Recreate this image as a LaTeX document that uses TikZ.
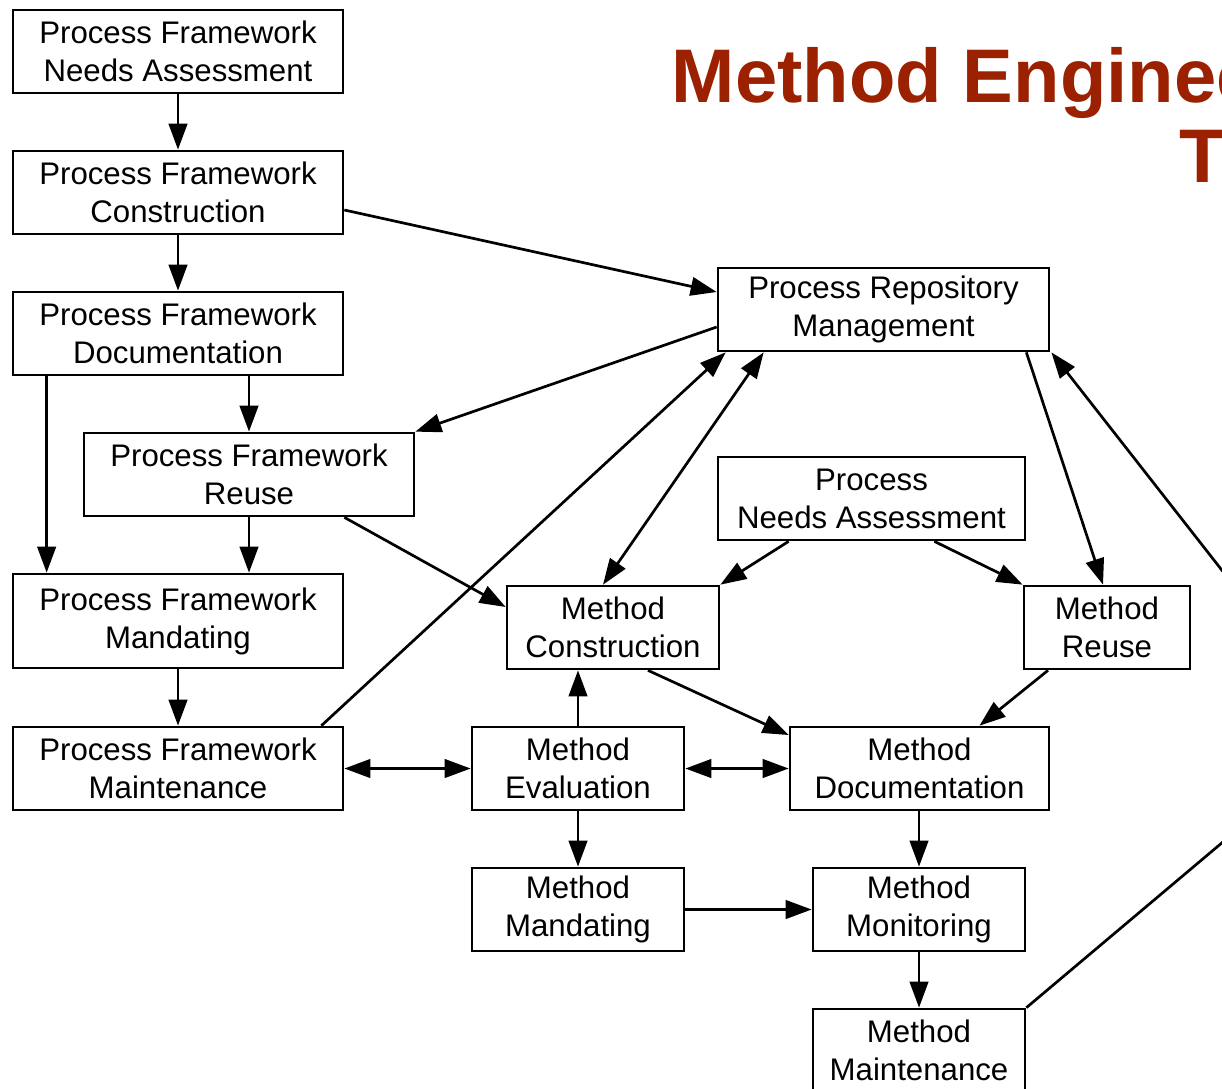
\documentclass[tikz,border=0pt]{standalone}
\usepackage{fontspec}
\setmainfont{Liberation Sans}
\usetikzlibrary{arrows.meta,calc}
\definecolor{titlered}{RGB}{155,33,0}
\begin{document}
\begin{tikzpicture}[x=1pt,y=-1pt,
  box/.style={draw,line width=2.7pt,fill=white,align=center,inner sep=0pt,
    minimum height=83pt,font=\fontsize{31.2}{38}\selectfont},
  wide/.style={box,minimum width=330pt},
  tip/.tip={Triangle[length=26pt,width=18.5pt]},
  conn/.style={line width=2.7pt,-tip},
  bconn/.style={line width=2.7pt,tip-tip},
  plain/.style={line width=2.7pt},
  title/.style={anchor=base west,inner sep=0pt,text=titlered,font=\fontsize{76}{80}\selectfont\bfseries}]
\useasboundingbox (0,0) rectangle (1222,1088);
\clip (0,0) rectangle (1222,1088);

% title
\node[title] (t1) at (671.5,102) {Method Engineering};
\node[title] (t2) at (1179,182) {Tasks};

% process framework column
\node[wide] (PFNA) at (178,51.5) {Process Framework\\Needs Assessment};
\node[wide] (PFC) at (178,192.5) {Process Framework\\Construction};
\node[wide] (PFD) at (178,333.5) {Process Framework\\Documentation};
\node[wide] (PFR) at (249,474.5) {Process Framework\\Reuse};
\node[wide,minimum height=94pt] (PFM) at (178,621) {Process Framework\\Mandating};
\node[wide] (PFMT) at (178,768.5) {Process Framework\\Maintenance};

% method nodes
\node[box,minimum width=331pt] (PRM) at (883.5,309.5) {Process Repository\\Management};
\node[box,minimum width=307pt] (PNA) at (871.5,498.5) {Process\\Needs Assessment};
\node[box,minimum width=212pt] (MC) at (613,627.5) {Method\\Construction};
\node[box,minimum width=166pt] (MR) at (1107,627.5) {Method\\Reuse};
\node[box,minimum width=212pt] (ME) at (578,768.5) {Method\\Evaluation};
\node[box,minimum width=259pt] (MD) at (919.5,768.5) {Method\\Documentation};
\node[box,minimum width=212pt] (MMA) at (578,909.5) {Method\\Mandating};
\node[box,minimum width=212pt] (MMO) at (919,909.5) {Method\\Monitoring};
\node[box,minimum width=212pt] (MMT) at (919,1050.5) {Method\\Maintenance};

\coordinate (offA) at (1300,670);
\coordinate (offB) at (1300,777);

% connectors
\draw[conn] (PFNA.south) -- (PFC.north);
\draw[conn] (PFC.south) -- (PFD.north);
\draw[conn] ([yshift=-17.5pt]PFC.east) -- ([yshift=17.5pt]PRM.west);
\draw[conn] ([yshift=-17.5pt]PRM.west) -- (PFR.north east);
\draw[conn] (PFR.north |- PFD.south) -- (PFR.north);
\draw[conn] ([xshift=35pt]PFD.south west) -- ([xshift=35pt]PFM.north west);
\draw[conn] (PFR.south) -- (PFR.south |- PFM.north);
\draw[conn] ([xshift=-71pt]PFR.south east) -- ([yshift=20.5pt]MC.west);
\draw[conn] (PFM.south) -- (PFMT.north);
\draw[bconn] (PFMT.east) -- (ME.west);
\draw[conn] ([xshift=-23pt]PFMT.north east) -- ([xshift=9pt]PRM.south west);
\draw[bconn] ([xshift=-10pt]MC.north) -- ([xshift=47pt]PRM.south west);
\draw[conn] ([xshift=72pt]PNA.south west) -- (MC.north east);
\draw[conn] ([xshift=-92pt]PNA.south east) -- (MR.north west);
\draw[conn] ([xshift=-24pt]PRM.south east) -- ([xshift=-4pt]MR.north);
\draw[conn] (offA) -- ([xshift=1pt]PRM.south east);
\draw[plain] (MMT.north east) -- (offB);
\draw[conn] ([xshift=35pt]MC.south) -- ([yshift=33.5pt]MD.west);
\draw[conn] ([xshift=-59pt]MR.south) -- ([xshift=60pt]MD.north);
\draw[bconn] (ME.east) -- (MD.west);
\draw[conn] (ME.north) -- (ME.north |- MC.south);
\draw[conn] (ME.south) -- (MMA.north);
\draw[conn] (MMO.north |- MD.south) -- (MMO.north);
\draw[conn] (MMA.east) -- (MMO.west);
\draw[conn] (MMO.south) -- (MMT.north);
\end{tikzpicture}
\end{document}
